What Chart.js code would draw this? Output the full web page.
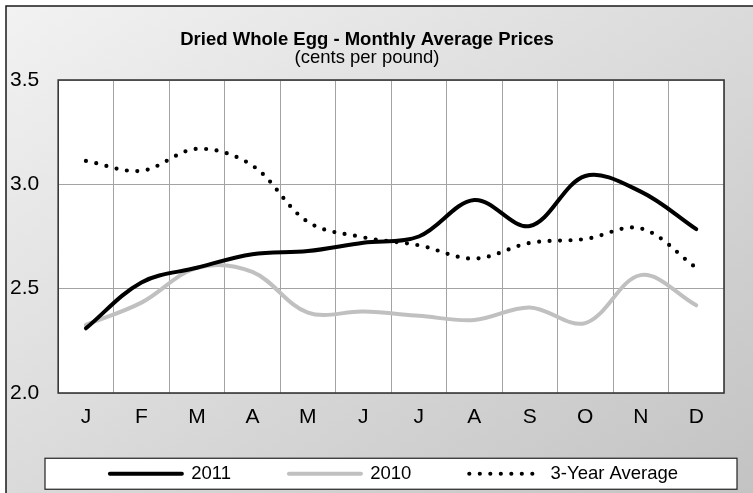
<!DOCTYPE html>
<html>
<head>
<meta charset="utf-8">
<script src="https://cdn.jsdelivr.net/npm/chart.js@4.4.1/dist/chart.umd.min.js"></script>
<style>
  html, body { margin: 0; padding: 0; background: #ffffff; }
  #wrap { width: 753px; height: 493px; }
</style>
</head>
<body>
<div id="wrap"><canvas id="c" width="753" height="493"></canvas></div>
<script>
const months = ['J', 'F', 'M', 'A', 'M', 'J', 'J', 'A', 'S', 'O', 'N', 'D'];
const seriesNames = ['2011', '2010', '3-Year Average'];
const prices2011 = [2.31, 2.53, 2.60, 2.665, 2.68, 2.72, 2.75, 2.925, 2.80, 3.04, 2.965, 2.785];
const prices2010 = [2.326, 2.433, 2.60, 2.58, 2.385, 2.39, 2.37, 2.35, 2.41, 2.335, 2.565, 2.42];
const avg3Year = [3.112, 3.065, 3.17, 3.09, 2.82, 2.746, 2.708, 2.644, 2.719, 2.738, 2.789, 2.60];
const yTicks = [2.0, 2.5, 3.0, 3.5];

const FONT = "'Liberation Sans', Arial, Helvetica, sans-serif";
const LEGEND_TOP = 406.5;      // where the legend block starts
const LEGEND_CENTER = 394;     // horizontal centre of the legend items

const decor = {
  id: 'decor',
  afterLayout(chart) {
    const lg = chart.legend;
    if (!lg) return;
    const w = lg.right - lg.left;
    lg.top = LEGEND_TOP;
    lg.bottom = chart.height;
    lg.left = LEGEND_CENTER - w / 2;
    lg.right = LEGEND_CENTER + w / 2;
  },
  beforeDraw(chart) {
    const ctx = chart.ctx;
    const W = chart.width, H = chart.height;
    ctx.save();
    ctx.fillStyle = '#ffffff';
    ctx.fillRect(0, 0, W, H);
    const x0 = 6, y0 = 6;
    const w = W - x0, h = H - y0;
    const k = 2 * w * h / (w * w + h * h);
    const g = ctx.createLinearGradient(x0, y0, x0 + k * h, y0 + k * w);
    g.addColorStop(0, '#f2f2f2');
    g.addColorStop(1, '#c3c3c3');
    ctx.fillStyle = g;
    ctx.fillRect(x0, y0, w, h);
    ctx.strokeStyle = '#1a1a1a';
    ctx.lineWidth = 1.5;
    ctx.beginPath();
    ctx.moveTo(x0, H + 2);
    ctx.lineTo(x0, y0);
    ctx.lineTo(W + 2, y0);
    ctx.stroke();
    // plot background
    const a = chart.chartArea;
    ctx.fillStyle = '#ffffff';
    ctx.fillRect(a.left, a.top, a.right - a.left, a.bottom - a.top);
    // legend frame
    const lg = chart.legend;
    const cy = lg.top + lg.options.labels.padding + lg.options.labels.font.size / 2;
    ctx.fillStyle = '#ffffff';
    ctx.fillRect(45, cy - 15.5, 692, 31);
    ctx.strokeStyle = '#222222';
    ctx.lineWidth = 1.2;
    ctx.strokeRect(45, cy - 15.5, 692, 31);
    ctx.restore();
  },
  beforeDatasetsDraw(chart) {
    const ctx = chart.ctx;
    const a = chart.chartArea;
    ctx.save();
    ctx.strokeStyle = '#383838';
    ctx.lineWidth = 1.6;
    ctx.strokeRect(a.left, a.top, a.right - a.left, a.bottom - a.top);
    ctx.restore();
  }
};

new Chart(document.getElementById('c'), {
  type: 'line',
  data: {
    labels: months,
    datasets: [
      {
        label: seriesNames[0],
        data: prices2011,
        borderColor: '#000000',
        backgroundColor: '#000000',
        borderWidth: 4,
        borderCapStyle: 'round',
        borderJoinStyle: 'round',
        tension: 0.35,
        pointRadius: 0,
        fill: false
      },
      {
        label: seriesNames[1],
        data: prices2010,
        borderColor: '#c0c0c0',
        backgroundColor: '#c0c0c0',
        borderWidth: 4,
        borderCapStyle: 'round',
        borderJoinStyle: 'round',
        tension: 0.35,
        pointRadius: 0,
        fill: false
      },
      {
        label: seriesNames[2],
        data: avg3Year,
        borderColor: '#000000',
        backgroundColor: '#000000',
        borderWidth: 4.2,
        borderDash: [0, 10.5],
        borderCapStyle: 'round',
        borderJoinStyle: 'round',
        tension: 0.35,
        pointRadius: 0,
        fill: false
      }
    ]
  },
  options: {
    responsive: false,
    animation: false,
    devicePixelRatio: 1,
    layout: { padding: { left: 10, right: 29, top: 6, bottom: 0 } },
    plugins: {
      title: {
        display: true,
        text: 'Dried Whole Egg - Monthly Average Prices',
        color: '#000000',
        font: { family: FONT, size: 18.5, weight: 'bold', lineHeight: 1 },
        padding: { top: 24.5, bottom: 0 }
      },
      subtitle: {
        display: true,
        text: '(cents per pound)',
        color: '#000000',
        font: { family: FONT, size: 18.5, weight: 'normal', lineHeight: 1 },
        padding: { top: 0, bottom: 12.5 }
      },
      legend: {
        position: 'bottom',
        fullSize: true,
        maxHeight: 52,
        labels: {
          usePointStyle: true,
          pointStyle: 'line',
          pointStyleWidth: 72,
          padding: 58,
          color: '#000000',
          font: { family: FONT, size: 18.5 },
          generateLabels(chart) {
            return chart.data.datasets.map((ds, i) => ({
              text: ds.label,
              fillStyle: ds.borderColor,
              strokeStyle: ds.borderColor,
              lineWidth: ds.borderWidth,
              lineDash: ds.borderDash || [],
              lineDashOffset: 0,
              lineCap: 'round',
              lineJoin: 'round',
              pointStyle: 'line',
              fontColor: '#000000',
              hidden: false,
              datasetIndex: i
            }));
          }
        }
      },
      tooltip: { enabled: false }
    },
    scales: {
      x: {
        type: 'category',
        offset: true,
        grid: { color: '#a3a3a3', lineWidth: 1, drawTicks: false, offset: true },
        border: { display: false },
        ticks: {
          color: '#000000',
          font: { family: FONT, size: 21 },
          padding: 11.4,
          maxRotation: 0,
          autoSkip: false
        }
      },
      y: {
        type: 'linear',
        min: yTicks[0],
        max: yTicks[yTicks.length - 1],
        afterBuildTicks(scale) { scale.ticks = yTicks.map(v => ({ value: v })); },
        grid: { color: '#a3a3a3', lineWidth: 1, drawTicks: false },
        border: { display: false },
        ticks: {
          color: '#000000',
          font: { family: FONT, size: 21 },
          padding: 9.5,
          crossAlign: 'far',
          callback: v => Number(v).toFixed(1)
        }
      }
    }
  },
  plugins: [decor]
});
</script>
</body>
</html>
